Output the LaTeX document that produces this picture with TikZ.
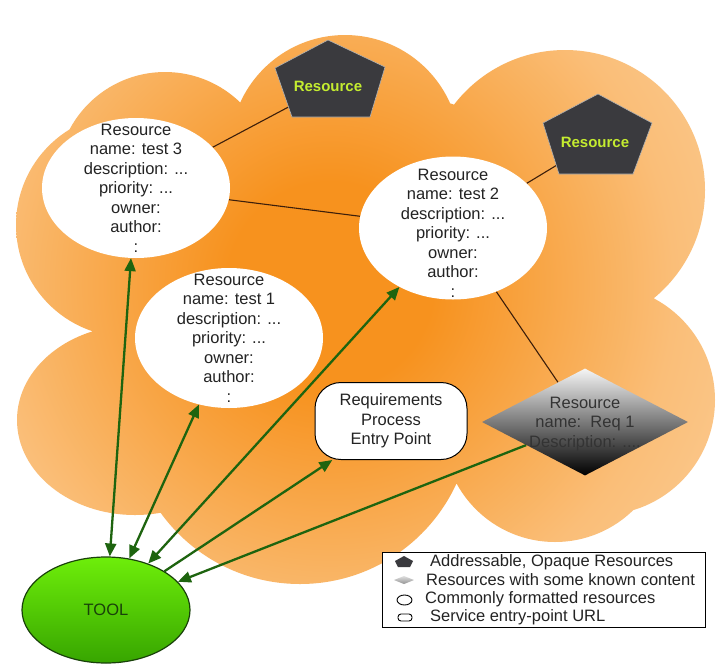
\documentclass[tikz,border=0pt]{standalone}
\usepackage{fontspec}
\setmainfont{Liberation Sans}
\usetikzlibrary{shapes.geometric,arrows.meta}
\definecolor{cloudA}{RGB}{247,146,30}
\definecolor{cloudB}{RGB}{250,190,120}
\definecolor{cloudC}{RGB}{254,236,214}
\definecolor{penta}{RGB}{58,58,62}
\definecolor{lime}{RGB}{196,236,48}
\definecolor{agreen}{RGB}{30,100,15}
\definecolor{lbrown}{RGB}{60,30,10}
\definecolor{txt}{RGB}{35,35,35}
\definecolor{toolA}{RGB}{110,238,10}
\definecolor{toolB}{RGB}{55,165,0}
\definecolor{toolD}{RGB}{25,65,10}
\pgfdeclareradialshading{cloudshade}{\pgfpoint{0bp}{0bp}}{color(0bp)=(cloudA); color(6bp)=(cloudA); color(20bp)=(cloudB); color(46bp)=(cloudC); color(100bp)=(cloudC)}
\pgfdeclarelayer{bg}
\pgfdeclarelayer{edges}
\pgfsetlayers{bg,edges,main}
\tikzset{
  res/.style={ellipse, fill=white, minimum width=188pt, minimum height=140pt, inner sep=0pt},
  rtxt/.style={align=center, font=\fontsize{16.5}{19.5}\selectfont, text=txt, inner sep=0pt},
  ptxt/.style={font=\bfseries\fontsize{15}{17}\selectfont, text=lime, inner sep=0pt},
  pent/.style={fill=penta, draw=gray!60, line width=0.6pt},
  link/.style={draw=lbrown, line width=1.1pt},
  tip/.tip={Triangle[length=13pt,width=11pt]},
  dbl/.style={draw=agreen, line width=2.3pt, tip-tip},
  toend/.style={draw=agreen, line width=2.3pt, -tip},
  legtxt/.style={anchor=west, font=\fontsize{16.5}{18}\selectfont, text=txt, inner sep=0pt}
}
\begin{document}
\begin{tikzpicture}[x=1pt,y=-1pt]
\path[use as bounding box] (0,0) rectangle (718,665);

% nodes
\node[res] (t3) at (136,188) {};
\node[rtxt] (t3txt) at (t3) {Resource\\name: test 3\\description: ...\\priority: ...\\owner:\\author:\\:};
\node[res] (t1) at (229,338) {};
\node[rtxt] (t1txt) at (t1) {Resource\\name: test 1\\description: ...\\priority: ...\\owner:\\author:\\:};
\node[res, minimum height=143pt] (t2) at (453,228) {};
\node[rtxt] (t2txt) at ([yshift=-5pt]t2) {Resource\\name: test 2\\description: ...\\priority: ...\\owner:\\author:\\:};

\fill[pent] (328,40) -- (385,67) -- (370,117) -- (292,117) -- (275,68) -- cycle;
\node[ptxt] (p1) at (328,86) {Resource};
\fill[pent] (598,94) -- (652,123) -- (633,174) -- (559,174) -- (543,123) -- cycle;
\node[ptxt] (p2) at (595,142) {Resource};

\node[diamond, minimum width=206pt, minimum height=107pt, inner sep=0pt,
      top color=gray!8, middle color=gray!55, bottom color=black] (req) at (585,422) {};
\node[rtxt, text=black!80] (reqtxt) at ([yshift=-2pt]req) {Resource\\name:\ \ Req 1\\Description: ....};

\node[rectangle, rounded corners=26pt, draw=black, line width=1pt, fill=white,
      minimum width=152pt, minimum height=77pt, rtxt] (rpe) at (391,421) {Requirements\\Process\\Entry Point};

\node[ellipse, minimum width=168pt, minimum height=106pt, inner sep=0pt, draw=toolD, line width=1.2pt,
      top color=toolA, bottom color=toolB, font=\fontsize{16.5}{19}\selectfont, text=toolD] (tool) at (106,610) {TOOL};

% legend
\node[draw=black, line width=1pt, fill=white, minimum width=323pt, minimum height=75pt, inner sep=0pt] (legend) at (543.5,589.5) {};
\fill[penta] (404,556) -- (413,561) -- (410,567) -- (398,567) -- (395,561) -- cycle;
\shade[top color=gray!25, bottom color=gray!85] (404,576) -- (414,580) -- (404,584) -- (394,580) -- cycle;
\draw[line width=0.9pt] (404.5,600) ellipse [x radius=7.5pt, y radius=5pt];
\draw[line width=0.9pt, rounded corners=3pt] (398,614) rectangle (412,621);
\node[legtxt] (l1) at (430,562) {Addressable, Opaque Resources};
\node[legtxt] (l2) at (426,580) {Resources with some known content};
\node[legtxt] (l3) at (425,599) {Commonly formatted resources};
\node[legtxt] (l4) at (430,617) {Service entry-point URL};

% connectors
\begin{pgfonlayer}{edges}
\draw[link] (t3) -- (p1);
\draw[link] (t3) -- (t2);
\draw[link] (t2) -- (p2);
\draw[link] (t2) -- (req);
\draw[dbl] (tool) -- (t3);
\draw[dbl] (tool) -- (t1);
\draw[dbl] (tool) -- (t2);
\draw[toend] (tool) -- (rpe);
\draw[toend] (req) -- (tool);
\end{pgfonlayer}

% cloud
\begin{pgfonlayer}{bg}
\fill[white] (0,0) rectangle (718,665);
\begin{scope}
\clip (128,225) circle [radius=112pt]
      (165,180) circle [radius=108pt]
      (345,150) circle [radius=115pt]
      (565,190) circle [radius=140pt]
      (600,400) circle [radius=115pt]
      (555,430) circle [radius=112pt]
      (300,412) circle [radius=172pt]
      (135,420) ellipse [x radius=118pt, y radius=95pt]
      (360,290) ellipse [x radius=250pt, y radius=200pt];
\shade[shading=cloudshade] (330,285) circle [radius=430pt];
\end{scope}
\end{pgfonlayer}
\end{tikzpicture}
\end{document}
